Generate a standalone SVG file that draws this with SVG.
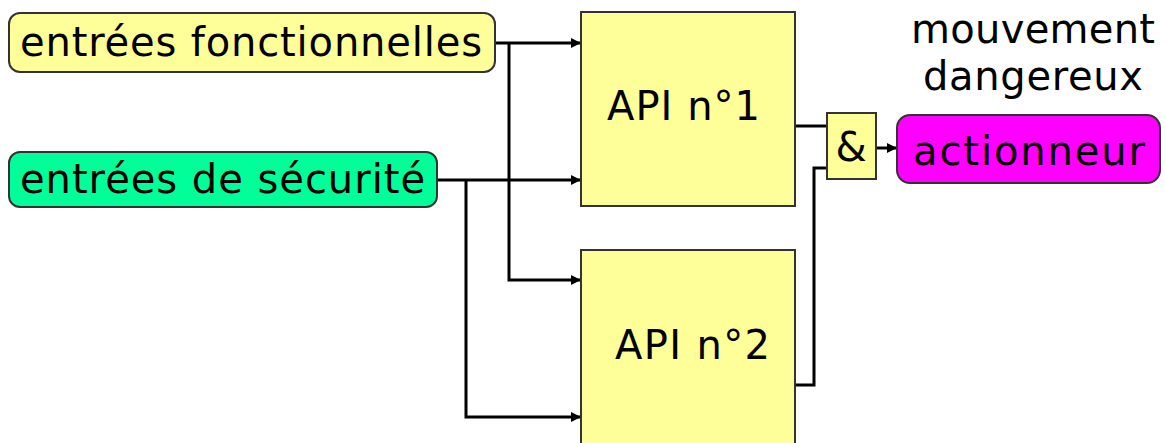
<svg xmlns="http://www.w3.org/2000/svg" width="1166" height="443" viewBox="0 0 1166 443">
<style>
.t{font-family:"DejaVu Sans","Verdana",sans-serif;font-size:40px;fill:#000}
.box{stroke:#333;stroke-width:2}
.w{fill:none;stroke:#000;stroke-width:3}
</style>
<defs>
<marker id="ah" viewBox="0 0 10 10" refX="10" refY="5" markerWidth="10" markerHeight="11" markerUnits="userSpaceOnUse" orient="auto">
<path d="M0,0 L10,5 L0,10 z" fill="#000"/>
</marker>
</defs>
<rect width="1166" height="443" fill="#fff"/>
<g id="connectors">
<path class="w" d="M495,43 H581" marker-end="url(#ah)"/>
<path class="w" d="M509,43 V280 H581" marker-end="url(#ah)"/>
<path class="w" d="M437,180 H581" marker-end="url(#ah)"/>
<path class="w" d="M466,180 V417 H581" marker-end="url(#ah)"/>
<path class="w" d="M795,126 H827"/>
<path class="w" d="M795,385 H814 V168 H827"/>
<path class="w" d="M876,148 H897" marker-end="url(#ah)"/>
</g>
<g id="entrees-fonctionnelles">
<rect class="box" x="9" y="13" width="486" height="59" rx="11" fill="#FFFF99"/>
<text class="t" x="20" y="56" textLength="462" lengthAdjust="spacing">entrées fonctionnelles</text>
</g>
<g id="entrees-securite">
<rect class="box" x="9" y="152" width="428" height="55" rx="11" fill="#00FF99"/>
<text class="t" x="20" y="193" textLength="405" lengthAdjust="spacing">entrées de sécurité</text>
</g>
<g id="api1">
<rect class="box" x="581" y="12" width="214" height="194" fill="#FFFF99"/>
<text class="t" x="607" y="120" textLength="153" lengthAdjust="spacing">API n°1</text>
</g>
<g id="api2">
<rect class="box" x="581" y="250" width="214" height="200" fill="#FFFF99"/>
<text class="t" x="615" y="359" textLength="155" lengthAdjust="spacing">API n°2</text>
</g>
<g id="et">
<rect class="box" x="827" y="113" width="49" height="66" fill="#FFFF99"/>
<text class="t" x="851" y="161" text-anchor="middle">&amp;</text>
</g>
<g id="actionneur">
<rect class="box" x="897" y="115" width="263" height="68" rx="13" fill="#FF00FF"/>
<text class="t" x="913" y="165" textLength="232" lengthAdjust="spacing">actionneur</text>
</g>
<g id="label">
<text class="t" x="911" y="43" textLength="244" lengthAdjust="spacing">mouvement</text>
<text class="t" x="923" y="90" textLength="220" lengthAdjust="spacing">dangereux</text>
</g>
</svg>
